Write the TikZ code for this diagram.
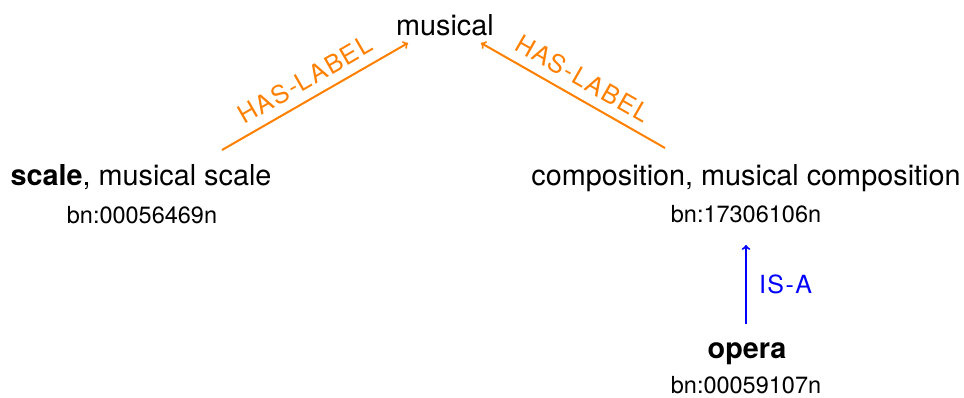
\documentclass[tikz,border=0pt]{standalone}
\usepackage{fontspec}
\setmainfont{TeX Gyre Heros}
\definecolor{hasorange}{RGB}{255,128,0}
\definecolor{isablue}{RGB}{0,0,255}
\begin{document}
\begin{tikzpicture}[x=1pt,y=-1pt,
  mainlbl/.style={anchor=base,inner sep=0pt,font=\fontsize{28.8}{30}\selectfont},
  idlbl/.style={anchor=base,inner sep=0pt,font=\fontsize{23.5}{26}\selectfont},
  hasedge/.style={draw=hasorange,line width=2pt},
  hastext/.style={text=hasorange,font=\fontsize{25}{27}\selectfont\addfontfeature{LetterSpace=6},inner sep=0pt},
  isaedge/.style={draw=isablue,line width=2pt,->},
  isatext/.style={text=isablue,font=\fontsize{25}{27}\selectfont\addfontfeature{LetterSpace=6},inner sep=0pt}]
\useasboundingbox (0,0) rectangle (964,397);
\node[mainlbl] (musical) at (445,35) {musical};
\node[mainlbl] (scale) at (141,185) {\textbf{scale}, musical scale};
\node[idlbl] (scaleid) at (142,223) {bn:00056469n};
\node[mainlbl] (comp) at (746,185) {composition, musical composition};
\node[idlbl] (compid) at (746,222) {bn:17306106n};
\node[mainlbl] (opera) at (747,358) {\textbf{opera}};
\node[idlbl] (operaid) at (746,393) {bn:00059107n};
\coordinate (l1) at (222,150);
\coordinate (l2) at (408,43);
\coordinate (r1) at (665,148);
\coordinate (r2) at (481,43);
\coordinate (i1) at (746,324);
\coordinate (i2) at (746,245);
\draw[hasedge,->] (l1) -- node[hastext,pos=0.5,sloped,above=9pt] {HAS-LABEL} (l2);
\draw[hasedge,<-] (r2) -- node[hastext,pos=0.5,sloped,above=9pt] {HAS-LABEL} (r1);
\draw[isaedge] (i1) -- node[isatext,midway,right=12pt] {IS-A} (i2);
\end{tikzpicture}
\end{document}
